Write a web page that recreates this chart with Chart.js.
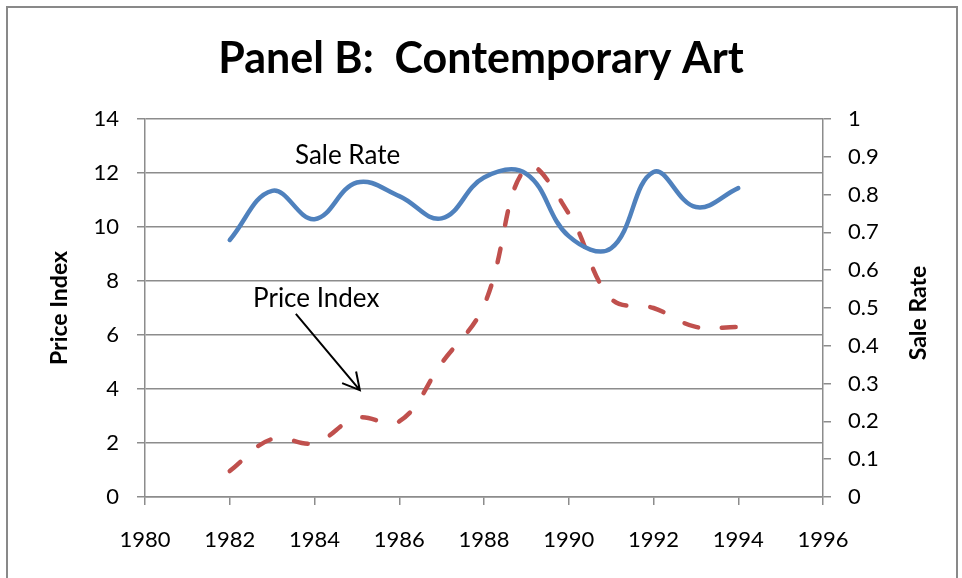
<!DOCTYPE html>
<html>
<head>
<meta charset="utf-8">
<title>Panel B: Contemporary Art</title>
<script src="https://cdn.jsdelivr.net/npm/chart.js@4.4.1/dist/chart.umd.min.js"></script>
<style>
  html, body { margin: 0; padding: 0; background: #fff; }
  #wrap { width: 962px; height: 578px; }
</style>
</head>
<body>
<div id="wrap"><canvas id="artChart" width="962" height="578"></canvas></div>
<script>
// data
const years = [1982, 1983, 1984, 1985, 1986, 1987, 1988, 1989, 1990, 1991, 1992, 1993, 1994];
const saleRate = [0.68, 0.81, 0.735, 0.832, 0.796, 0.737, 0.845, 0.855, 0.69, 0.658, 0.86, 0.767, 0.817];
const priceIndex = [0.96, 2.15, 2.0, 2.93, 2.8, 4.96, 7.1, 12.2, 10.5, 7.35, 7.0, 6.3, 6.3];

const xTicks = [1980, 1982, 1984, 1986, 1988, 1990, 1992, 1994, 1996];
const leftTicks = [0, 2, 4, 6, 8, 10, 12, 14];
const rightTicks = [0, 0.1, 0.2, 0.3, 0.4, 0.5, 0.6, 0.7, 0.8, 0.9, 1];

// annotation anchors, in data units (year, price index)
const saleRateNote = { text: 'Sale Rate', x: 1984.78, y: 12.63 };
const priceNote = { text: 'Price Index', x: 1984.04, y: 7.33 };
const priceArrow = { from: [1983.56, 6.78], to: [1985.07, 3.96] };

const gridGray = '#8c8c8c';
const font = 'Lato';

const decorations = {
  id: 'decorations',
  beforeDraw(chart) {
    const ctx = chart.ctx;
    ctx.save();
    ctx.fillStyle = '#fff';
    ctx.fillRect(0, 0, chart.width, chart.height);
    ctx.strokeStyle = '#898989';
    ctx.lineWidth = 2;
    ctx.strokeRect(7, 7, 950, 640);
    ctx.restore();
  },
  afterDraw(chart) {
    const ctx = chart.ctx;
    const xs = chart.scales.x, ys = chart.scales.y;
    const area = chart.chartArea;
    ctx.save();
    ctx.fillStyle = '#000';
    ctx.textAlign = 'center';
    ctx.textBaseline = 'middle';
    ctx.font = '26px ' + font;
    ctx.fillText(saleRateNote.text, xs.getPixelForValue(saleRateNote.x), ys.getPixelForValue(saleRateNote.y));
    ctx.fillText(priceNote.text, xs.getPixelForValue(priceNote.x), ys.getPixelForValue(priceNote.y));

    // arrow
    const x1 = xs.getPixelForValue(priceArrow.from[0]), y1 = ys.getPixelForValue(priceArrow.from[1]);
    const x2 = xs.getPixelForValue(priceArrow.to[0]), y2 = ys.getPixelForValue(priceArrow.to[1]);
    const ang = Math.atan2(y2 - y1, x2 - x1);
    ctx.strokeStyle = '#000';
    ctx.lineWidth = 2;
    ctx.beginPath();
    ctx.moveTo(x1, y1);
    ctx.lineTo(x2, y2);
    ctx.moveTo(x2 - 19 * Math.cos(ang - 0.5), y2 - 19 * Math.sin(ang - 0.5));
    ctx.lineTo(x2, y2);
    ctx.lineTo(x2 - 19 * Math.cos(ang + 0.5), y2 - 19 * Math.sin(ang + 0.5));
    ctx.stroke();

    // right axis title, reading bottom to top
    ctx.font = 'bold 23px ' + font;
    ctx.translate(919, (area.top + area.bottom) / 2 + 5);
    ctx.rotate(-Math.PI / 2);
    ctx.fillText('Sale Rate', 0, 0);
    ctx.restore();
  }
};

function fixTicks(list) {
  return scale => { scale.ticks = list.map(v => ({ value: v })); };
}

const ctx = document.getElementById('artChart').getContext('2d');
const chart = new Chart(ctx, {
  type: 'line',
  data: {
    datasets: [{
      label: 'Sale Rate',
      data: years.map((yr, i) => ({ x: yr, y: saleRate[i] })),
      yAxisID: 'y1',
      borderColor: '#4F81BD',
      borderWidth: 4.5,
      borderCapStyle: 'round',
      borderJoinStyle: 'round',
      tension: 0.4,
      pointRadius: 0,
      fill: false
    }, {
      label: 'Price Index',
      data: years.map((yr, i) => ({ x: yr, y: priceIndex[i] })),
      yAxisID: 'y',
      borderColor: '#C0504D',
      borderWidth: 4.5,
      borderDash: [14, 24],
      borderCapStyle: 'round',
      borderJoinStyle: 'round',
      tension: 0.4,
      pointRadius: 0,
      fill: false
    }]
  },
  options: {
    responsive: false,
    animation: false,
    devicePixelRatio: 1,
    layout: { padding: 0 },
    plugins: {
      legend: { display: false },
      tooltip: { enabled: false },
      title: {
        display: true,
        text: 'Panel B:  Contemporary Art',
        color: '#000',
        font: { family: font, size: 43, weight: 'bold' },
        padding: { top: 33, bottom: 34.4 }
      }
    },
    scales: {
      x: {
        type: 'linear',
        min: 1980,
        max: 1996,
        afterBuildTicks: fixTicks(xTicks),
        afterFit: s => { s.height = 81; },
        grid: { drawOnChartArea: false, color: gridGray, lineWidth: 1.5, tickLength: 8 },
        border: { color: gridGray, width: 1.5 },
        ticks: { color: '#000', font: { family: font, size: 22 }, padding: 22, maxRotation: 0, callback: v => String(v) }
      },
      y: {
        position: 'left',
        min: 0,
        max: 14,
        afterBuildTicks: fixTicks(leftTicks),
        afterFit: s => { s.width = 145; },
        grid: { color: gridGray, lineWidth: 1.5, tickLength: 8 },
        border: { color: gridGray, width: 1.5 },
        ticks: { color: '#000', font: { family: font, size: 22 }, padding: 18, callback: v => String(v) },
        title: {
          display: true,
          text: 'Price Index',
          color: '#000',
          font: { family: font, size: 23, weight: 'bold' },
          padding: { top: 46, bottom: 0 }
        }
      },
      y1: {
        position: 'right',
        min: 0,
        max: 1,
        afterBuildTicks: fixTicks(rightTicks),
        afterFit: s => { s.width = 139; },
        grid: { drawOnChartArea: false, color: gridGray, lineWidth: 1.5, tickLength: 8 },
        border: { color: gridGray, width: 1.5 },
        ticks: { color: '#000', font: { family: font, size: 22 }, padding: 17, callback: v => String(v) }
      }
    }
  },
  plugins: [decorations]
});
</script>
</body>
</html>
